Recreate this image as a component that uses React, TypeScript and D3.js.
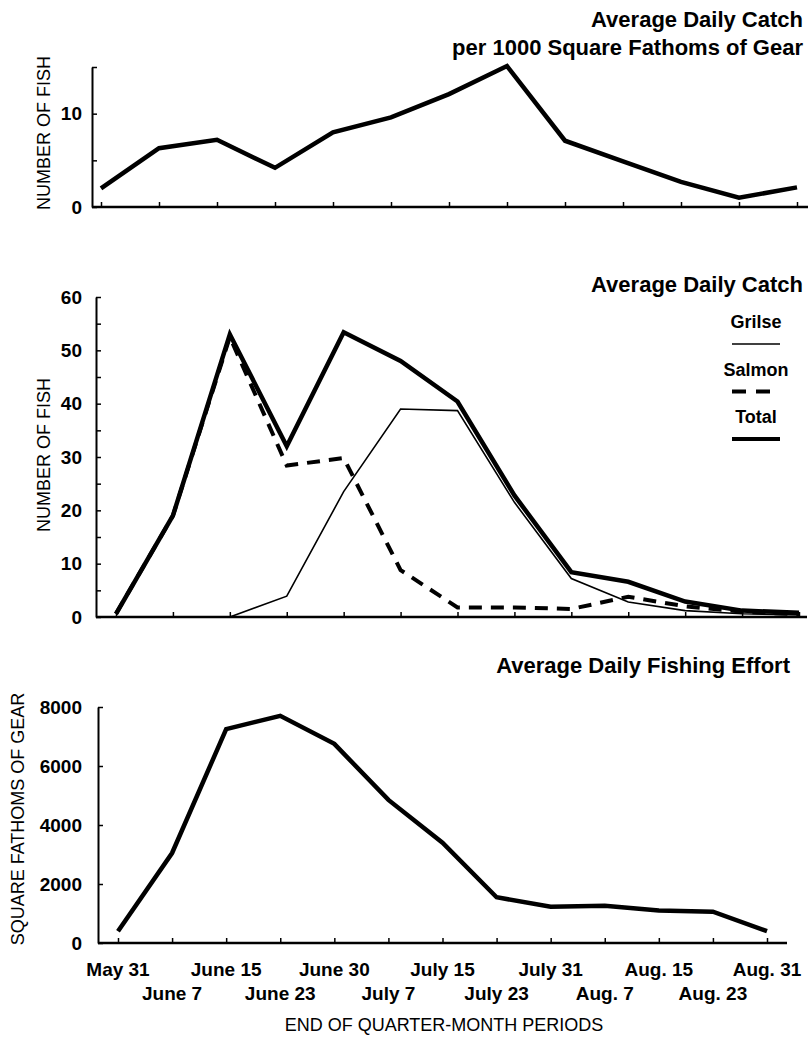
import React, { useEffect, useRef } from 'react';
import * as d3 from 'd3';

// end of quarter-month periods
const periods = ['May 31', 'June 7', 'June 15', 'June 23', 'June 30', 'July 7', 'July 15',
  'July 23', 'July 31', 'Aug. 7', 'Aug. 15', 'Aug. 23', 'Aug. 31'];

// average daily catch per 1000 square fathoms of gear
const catchPerGear = [2.0, 6.3, 7.2, 4.2, 8.0, 9.6, 12.1, 15.1, 7.1, 4.9, 2.7, 1.0, 2.1];

// average daily catch (number of fish)
const totalCatch = [0.6, 19, 53, 32, 53.4, 48, 40.4, 22.8, 8.4, 6.6, 2.9, 1.2, 0.8];
const grilseCatch = [null, null, 0, 3.9, 23.5, 39, 38.7, 21.5, 7.2, 2.8, 1.2, 0.6, 0.4];
const salmonCatch = [0.6, 19, 52.5, 28.4, 29.8, 8.8, 1.8, 1.8, 1.5, 3.8, 2.0, 1.0, 0.5];

// average daily fishing effort (square fathoms of gear)
const fishingEffort = [400, 3050, 7250, 7700, 6750, 4850, 3400, 1550, 1230, 1260, 1100, 1060, 400];

const topTicks = [0, 5, 10, 15];
const midTicks = d3.range(0, 61, 5);
const botTicks = [0, 2000, 4000, 6000, 8000];

const legendItems = [
  { name: 'Grilse', width: 1.6, dash: null },
  { name: 'Salmon', width: 4, dash: '14,10' },
  { name: 'Total', width: 4, dash: null },
];

const FONT = "'Liberation Sans', Arial, Helvetica, sans-serif";

const App = () => {
  const svgRef = useRef<SVGSVGElement>(null);

  useEffect(() => {
    const svg = d3.select(svgRef.current);
    svg.selectAll('*').remove();
    svg.attr('font-family', FONT);

    const title = (x, y, txt) =>
      svg.append('text').attr('x', x).attr('y', y).attr('text-anchor', 'end')
        .attr('font-size', 22).attr('font-weight', 'bold').text(txt);

    const yLabel = (x, y, txt) =>
      svg.append('text').attr('transform', `translate(${x},${y}) rotate(-90)`)
        .attr('text-anchor', 'middle').attr('font-size', 18).text(txt);

    // labels all end near x=82
    const yAxis = (y, left, values, labelled) => {
      const g = svg.append('g').attr('transform', `translate(${left},0)`)
        .call(d3.axisLeft(y).tickValues(values).tickSizeInner(-5).tickSizeOuter(0).tickPadding(left - 82)
          .tickFormat(d => (labelled(d) ? String(d) : '')));
      g.select('.domain').attr('stroke-width', 2);
      g.selectAll('.tick line').attr('stroke-width', 1.5);
      g.selectAll('text').attr('font-size', 19).attr('font-weight', 'bold').attr('font-family', FONT);
      return g;
    };

    const xAxis = (x, base, left, right) => {
      const g = svg.append('g').attr('transform', `translate(0,${base})`)
        .call(d3.axisBottom(x).tickSizeInner(-5).tickSizeOuter(0).tickFormat(() => ''));
      g.select('.domain').remove();
      g.selectAll('.tick line').attr('stroke-width', 1.5);
      g.append('line').attr('x1', left).attr('x2', right).attr('stroke', '#000').attr('stroke-width', 2.5);
      return g;
    };

    const drawLine = (x, y, vals, width, dash) => {
      const line = d3.line<any>()
        .defined(d => d != null)
        .x((d, i) => x(periods[i]))
        .y(d => y(d));
      const p = svg.append('path').datum(vals).attr('d', line)
        .attr('fill', 'none').attr('stroke', '#000').attr('stroke-width', width)
        .attr('stroke-linejoin', 'miter').attr('stroke-miterlimit', 3);
      if (dash) p.attr('stroke-dasharray', dash);
      return p;
    };

    // ---- top panel
    const x1 = d3.scalePoint().domain(periods).range([101, 797]);
    const y1 = d3.scaleLinear().domain([0, 15]).range([207, 67]);
    title(803, 27, 'Average Daily Catch');
    title(803, 55, 'per 1000 Square Fathoms of Gear');
    yLabel(50, 133, 'NUMBER OF FISH');
    yAxis(y1, 92, topTicks, d => d === 0 || d === 10);
    xAxis(x1, 207, 92, 808);
    drawLine(x1, y1, catchPerGear, 4.5, null);

    // ---- middle panel
    const x2 = d3.scalePoint().domain(periods).range([116, 799]);
    const y2 = d3.scaleLinear().domain([0, 60]).range([617, 297]);
    title(803, 292, 'Average Daily Catch');
    yLabel(50, 455, 'NUMBER OF FISH');
    yAxis(y2, 96, midTicks, d => d % 10 === 0);
    xAxis(x2, 617, 96, 807);
    drawLine(x2, y2, grilseCatch, 1.6, null);
    drawLine(x2, y2, salmonCatch, 4, '13,9');
    drawLine(x2, y2, totalCatch, 4.5, null);

    const lg = svg.append('g').attr('transform', 'translate(756,0)');
    legendItems.forEach((it, i) => {
      const top = 328 + i * 47.5;
      lg.append('text').attr('x', 0).attr('y', top).attr('text-anchor', 'middle')
        .attr('font-size', 18).attr('font-weight', 'bold').text(it.name);
      const l = lg.append('line').attr('x1', -24).attr('x2', it.dash ? 17 : 24)
        .attr('y1', top + 16).attr('y2', top + 16)
        .attr('stroke', '#000').attr('stroke-width', it.width);
      if (it.dash) l.attr('stroke-dasharray', it.dash);
    });

    // ---- bottom panel
    const x3 = d3.scalePoint().domain(periods).range([118, 767]);
    const y3 = d3.scaleLinear().domain([0, 8000]).range([943, 707]);
    title(790, 673, 'Average Daily Fishing Effort');
    yLabel(24, 819, 'SQUARE FATHOMS OF GEAR');
    yAxis(y3, 98, botTicks, () => true);
    xAxis(x3, 943, 98, 787);
    drawLine(x3, y3, fishingEffort, 4.5, null);

    svg.append('g').selectAll('text').data(periods).join('text')
      .attr('x', d => x3(d))
      .attr('y', (d, i) => (i % 2 === 0 ? 976 : 1000))
      .attr('text-anchor', 'middle').attr('font-size', 19).attr('font-weight', 'bold')
      .text(d => d);

    svg.append('text').attr('x', 444).attr('y', 1031).attr('text-anchor', 'middle')
      .attr('font-size', 18).text('END OF QUARTER-MONTH PERIODS');
  }, []);

  return (
    <svg ref={svgRef} width={811} height={1037}
      style={{ position: 'absolute', left: 0, top: 0, background: '#fff' }} />
  );
};

export default App;
